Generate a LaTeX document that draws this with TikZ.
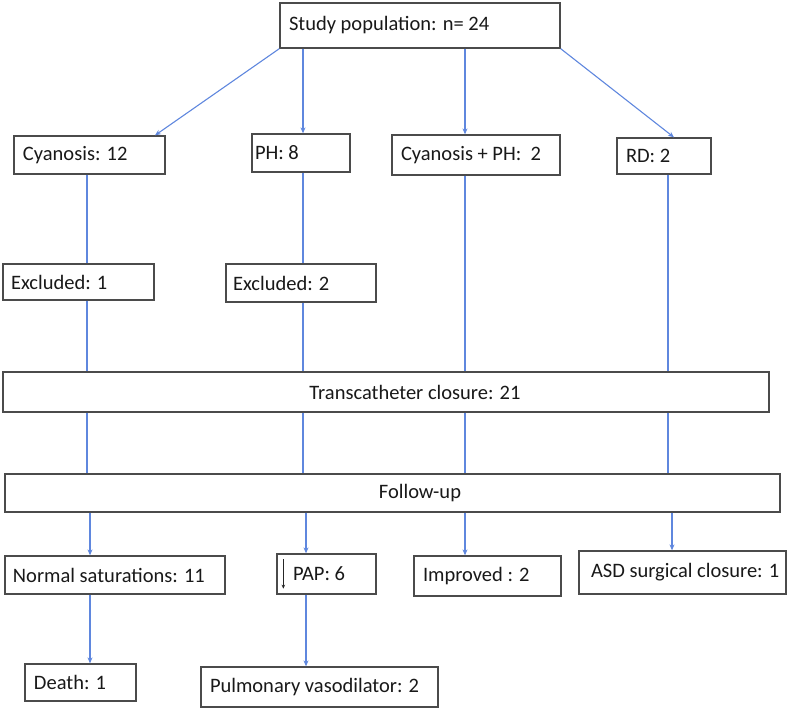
\documentclass[tikz,border=0pt]{standalone}
\usepackage{fontspec}
\setmainfont{Carlito}
\usetikzlibrary{arrows.meta,calc}
\definecolor{lnblue}{RGB}{95,135,222}
\definecolor{boxgray}{RGB}{75,75,75}
\newcommand\lbx[3]{\makebox[#1pt][l]{\hspace*{#2pt}#3}}
\newcommand\cbx[3]{\makebox[#1pt][c]{\hspace*{#2pt}#3}}
\begin{document}
\begin{tikzpicture}[x=1pt,y=-1pt,
  box/.style={draw=boxgray,line width=1.3pt,fill=white,inner xsep=0pt,inner ysep=0pt,
    font=\fontsize{20.5}{23}\selectfont,text=black!90},
  ln/.style={draw=lnblue,line width=1.1pt},
  arr/.style={ln,-{Stealth[length=6pt,width=5pt]}}]
\useasboundingbox (0,0) rectangle (788,713);
% top row
\node[box,minimum width=280pt,minimum height=45pt] (study) at (420,25.5) {\lbx{280}{9}{\raisebox{3pt}{Study population: n= 24}}};
\node[box,minimum width=151pt,minimum height=38pt] (cyan) at (89.5,155) {\lbx{151}{9}{Cyanosis: 12}};
\node[box,minimum width=98pt,minimum height=38pt] (ph) at (301,153) {\lbx{98}{3}{PH: 8}};
\node[box,minimum width=168pt,minimum height=40pt] (cph) at (476,155) {\lbx{168}{9}{Cyanosis + PH:\ \ 2}};
\node[box,minimum width=94pt,minimum height=36pt] (rd) at (664,156) {\lbx{94}{9}{\raisebox{-2pt}{RD: 2}}};
% excluded
\node[box,minimum width=151pt,minimum height=36pt] (ex1) at (78.5,282) {\lbx{151}{8}{Excluded: 1}};
\node[box,minimum width=150pt,minimum height=38pt] (ex2) at (301,283) {\lbx{150}{7}{Excluded: 2}};
% wide boxes
\node[box,minimum width=766pt,minimum height=40pt] (tc) at (386,392) {\cbx{766}{58}{Transcatheter closure: 21}};
\node[box,minimum width=775pt,minimum height=38pt] (fu) at (392.5,493) {\cbx{775}{55}{\raisebox{2pt}{Follow-up}}};
% outcomes
\node[box,minimum width=220pt,minimum height=38pt] (ns) at (115,575) {\lbx{220}{8}{Normal saturations: 11}};
\node[box,minimum width=99pt,minimum height=40pt] (pap) at (326.5,574) {\lbx{99}{16}{PAP: 6}};
\node[box,minimum width=147pt,minimum height=40pt] (imp) at (487.5,576) {\lbx{147}{9}{Improved : 2}};
\node[box,minimum width=207pt,minimum height=43pt] (asd) at (682.5,572.5) {\lbx{207}{12}{ASD surgical closure: 1}};
\node[box,minimum width=111pt,minimum height=37pt] (death) at (80.5,682.5) {\lbx{111}{9}{Death: 1}};
\node[box,minimum width=237pt,minimum height=40pt] (pv) at (319.5,687) {\lbx{237}{9}{Pulmonary vasodilator: 2}};
% column coordinates
\coordinate (cA) at (87,0);
\coordinate (cAb) at (90,0);
\coordinate (cB) at (303,0);
\coordinate (cBb) at (306,0);
\coordinate (cC) at (465,0);
\coordinate (cD) at (668,0);
\coordinate (cDb) at (672,0);
\coordinate (cyT) at (155,0);
\coordinate (rdT) at (674,0);
% top arrows
\draw[arr] (study.south west) -- (cyan.north -| cyT);
\draw[arr] (study.south -| cB) -- (ph.north -| cB);
\draw[arr] (study.south -| cC) -- (cph.north -| cC);
\draw[arr] (study.south east) -- (rd.north -| rdT);
% column A
\draw[ln] (cyan.south -| cA) -- (ex1.north -| cA);
\draw[ln] (ex1.south -| cA) -- (tc.north -| cA);
\draw[ln] (tc.south -| cA) -- (fu.north -| cA);
\draw[arr] (fu.south -| cAb) -- (ns.north -| cAb);
\draw[arr] (ns.south -| cAb) -- (death.north -| cAb);
% column B
\draw[ln] (ph.south -| cB) -- (ex2.north -| cB);
\draw[ln] (ex2.south -| cB) -- (tc.north -| cB);
\draw[ln] (tc.south -| cB) -- (fu.north -| cB);
\draw[arr] (fu.south -| cBb) -- (pap.north -| cBb);
\draw[arr] (pap.south -| cBb) -- (pv.north -| cBb);
% column C
\draw[ln] (cph.south -| cC) -- (tc.north -| cC);
\draw[ln] (tc.south -| cC) -- (fu.north -| cC);
\draw[arr] (fu.south -| cC) -- (imp.north -| cC);
% column D
\draw[ln] (rd.south -| cD) -- (tc.north -| cD);
\draw[ln] (tc.south -| cD) -- (fu.north -| cD);
\draw[arr] (fu.south -| cDb) -- (asd.north -| cDb);
% decrease arrow inside PAP box
\draw[black!85,line width=0.9pt,-{Stealth[length=4pt,width=3.5pt]}] ($(pap.north west)+(7,6)$) -- ($(pap.south west)+(7,-6)$);
\end{tikzpicture}
\end{document}
